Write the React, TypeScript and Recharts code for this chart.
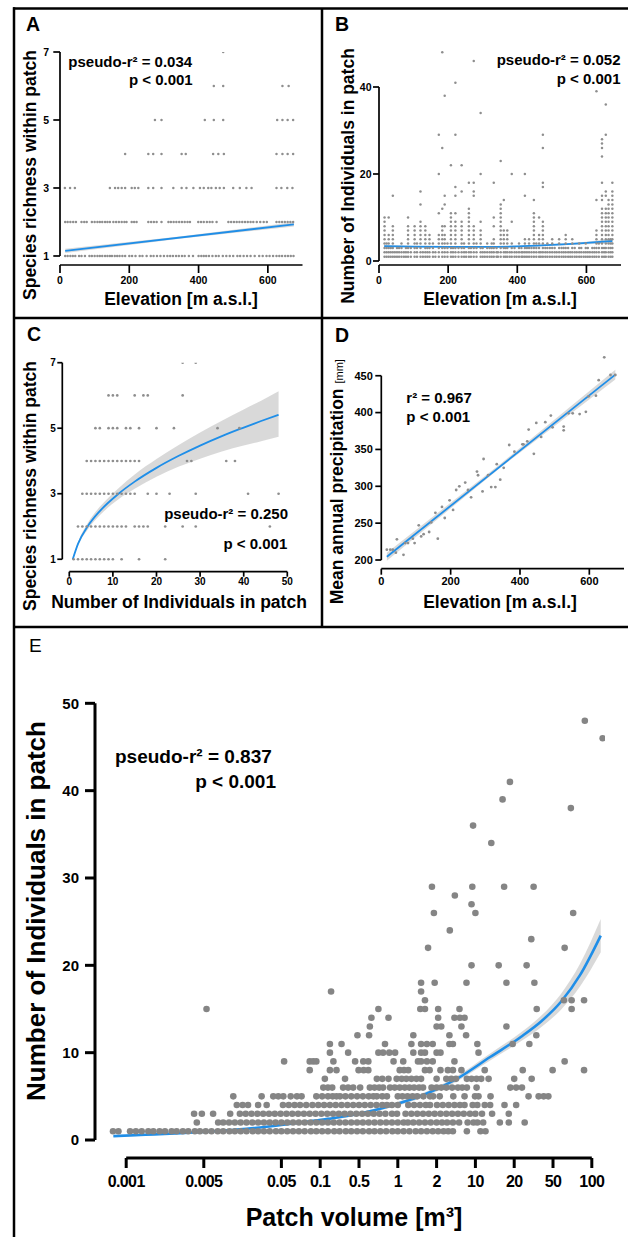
import React from 'react';
import { ComposedChart, Scatter, Line, Area, XAxis, YAxis, ReferenceLine } from 'recharts';

const FONT = '"Liberation Sans", Arial, Helvetica, sans-serif';
const DOT = '#8e8e8e';
const DOT_E = '#858585';
const BLUE = '#1f8ee8';
const BAND = '#cccccc';

// ---- Panel A: species richness vs elevation (one array per richness level)
const aRich1 = [15, 22, 30, 37, 44, 55, 62, 72, 85, 92, 100, 108, 115, 122, 130, 137, 144, 150, 158, 165, 172, 180, 188, 200, 208, 218, 230, 238, 250, 262, 270, 280, 290, 300, 310, 318, 326, 335, 343, 352, 360, 372, 384, 400, 408, 415, 422, 430, 440, 450, 458, 470, 480, 490, 500, 512, 520, 530, 540, 550, 562, 575, 585, 596, 605, 615, 625, 633, 641, 650, 658, 666, 674];
const aRich2 = [15, 22, 30, 38, 46, 62, 70, 77, 92, 100, 108, 115, 122, 130, 137, 144, 154, 162, 170, 178, 186, 192, 207, 214, 221, 255, 263, 271, 279, 293, 313, 320, 328, 336, 344, 352, 360, 368, 375, 399, 407, 415, 424, 432, 440, 452, 486, 494, 502, 510, 518, 526, 534, 542, 550, 558, 568, 578, 588, 597, 625, 633, 641, 649, 657, 665, 673];
const aRich3 = [14, 29, 43, 144, 159, 168, 178, 188, 207, 216, 226, 255, 269, 293, 327, 351, 365, 385, 404, 415, 428, 437, 450, 461, 473, 500, 519, 538, 553, 625, 639, 656, 671];
const aRich4 = [188, 255, 269, 293, 351, 363, 442, 457, 473, 625, 642, 657, 673];
const aRich5 = [274, 293, 418, 444, 471, 627, 642, 657, 673];
const aRich6 = [444, 471, 642, 660];
const aRich7 = [471];
const aLevels = [1, 2, 3, 4, 5, 6, 7];
const aFitX = [15, 675];
const aFitY = [1.15, 1.93];
const aBandX = [15, 345, 675];
const aBandLo = [1.09, 1.51, 1.87];
const aBandHi = [1.21, 1.57, 1.99];

// ---- Panel B: individuals per patch vs elevation (site elevation + counts found there)
const bSiteElev = [16, 22, 28, 34, 40, 46, 52, 58, 65, 72, 78, 84, 92, 103, 110, 120, 127, 134, 140, 146, 156, 163, 173, 183, 190, 198, 208, 214, 221, 230, 239, 246, 252, 260, 266, 274, 282, 294, 300, 306, 313, 320, 326, 332, 340, 344, 352, 361, 366, 371, 378, 384, 392, 398, 405, 412, 416, 422, 428, 434, 441, 448, 455, 463, 468, 474, 481, 487, 494, 501, 508, 514, 521, 528, 534, 540, 547, 553, 559, 566, 572, 579, 585, 592, 598, 604, 610, 617, 623, 629, 636, 645, 651, 656, 664, 670, 675];
const bSiteCounts = [
  [1, 2, 3, 4, 5, 6, 7, 8, 9, 10], [1, 2, 3, 4], [1, 2, 3, 4, 5, 6, 10], [1, 2, 3], [1, 2, 3, 4, 5, 6, 7, 8, 15], [1, 2],
  [1, 2, 3], [1, 2, 3], [1, 2, 3, 4], [1, 2], [1, 2, 3], [1, 2, 3, 4, 5, 6, 7, 8, 10], [1, 2, 3],
  [1, 2, 3, 4, 5, 6, 7, 8], [1, 2, 3, 4], [1, 2, 3, 4, 5, 6, 7, 8, 9, 13, 16], [1, 2], [1, 2, 3, 4, 5, 6, 7, 8],
  [1, 2, 3], [1, 2, 3, 4, 5, 6], [1, 2, 3, 4], [1, 2], [1, 2, 3, 4, 5, 6, 11, 20, 29],
  [1, 2, 3, 4, 5, 6, 7, 8, 12, 26, 48], [1, 2, 3, 4, 5, 6, 8, 13, 15, 38], [1, 2, 3, 4],
  [1, 2, 3, 4, 5, 6, 7, 8, 9, 10, 11, 22], [1, 2, 3], [1, 2, 3, 4, 5, 6, 7, 8, 9, 11, 15, 17, 29, 41], [1, 2, 3],
  [1, 2, 3, 4, 5, 6, 7, 8, 9, 16, 22], [1, 2, 3, 4], [1, 2], [1, 2, 3, 4, 5, 6, 7, 8, 9, 10, 11, 12, 18], [1, 2, 3],
  [1, 2, 3, 4, 5, 6, 7, 8, 15, 16, 18, 46], [1, 2, 3, 4], [1, 2, 3, 4, 5, 6, 7, 9, 20, 34], [1, 2, 3], [1, 2],
  [1, 2, 3, 4], [1, 2, 3], [1, 2, 3, 4], [1, 2, 3, 4, 5, 8, 10, 18], [1, 2, 3], [1, 2],
  [1, 2, 3, 4, 5, 6, 7, 8, 9, 10, 11, 12, 13, 23], [1, 2, 3, 4, 5, 6, 7, 14], [1, 2, 3], [1, 2, 3, 4, 5, 6, 7], [1, 2],
  [1, 2, 3, 4, 9, 20], [1, 2, 3], [1, 2], [1, 2, 3, 4], [1, 2, 3], [1, 2], [1, 2, 3, 4, 5, 15, 20], [1, 2, 3],
  [1, 2, 3, 4, 5], [1, 2, 3], [1, 2, 3, 4, 5, 6, 7, 8, 9, 10, 11, 14], [1, 2, 3, 4], [1, 2, 3, 4, 5, 6, 10], [1, 2],
  [1, 2, 3, 4, 5, 6, 7, 8, 9, 17, 18, 26, 29], [1, 2, 3], [1, 2, 3, 4], [1, 2, 3], [1, 2, 3, 4, 5], [1, 2, 3], [1, 2],
  [1, 2, 3, 4, 5], [1, 2, 3], [1, 2, 3], [1, 2, 3, 4, 5, 6], [1, 2, 3], [1, 2], [1, 2, 3, 4, 5], [1, 2, 3], [1, 2],
  [1, 2, 3, 4], [1, 2, 3], [1, 2], [1, 2, 3, 4], [1, 2, 3], [1, 2], [1, 2, 3], [1, 2, 3], [1, 2, 3, 4, 5, 6, 7, 14, 39],
  [1, 2, 3, 4], [1, 2, 3, 4, 5, 6, 7, 8, 9, 10, 11, 12, 14, 15, 18, 24, 26, 27, 28], [1, 2, 3],
  [1, 2, 3, 4, 5, 6, 7, 8, 9, 10, 11, 12, 15, 16, 29, 36], [1, 2, 3, 4, 5, 6, 7, 8, 9, 10, 11, 12, 13, 14],
  [1, 2, 3, 4, 5], [1, 2, 3, 4, 5, 6, 7, 8, 9, 10, 11, 12, 13, 14, 15, 16, 18],
];
const bFitX = [15, 100, 200, 300, 400, 500, 600, 675];
const bFitY = [3.4, 3.3, 3.25, 3.25, 3.35, 3.7, 4.15, 4.6];
const bBandLo = [3.15, 3.15, 3.1, 3.1, 3.2, 3.5, 3.85, 4.1];
const bBandHi = [3.65, 3.45, 3.4, 3.4, 3.5, 3.9, 4.45, 5.1];

// ---- Panel C: richness vs number of individuals
const cRich1 = [1, 2, 3, 4, 5, 6, 7, 8, 9, 10, 12, 16, 22];
const cRich2 = [2, 3, 4, 5, 6, 7, 8, 9, 10, 11, 12, 13, 15, 16, 17, 18, 22, 26, 29, 46];
const cRich3 = [3, 4, 5, 6, 7, 8, 9, 10, 11, 12, 13, 14, 15, 18, 20, 23, 29, 41, 48];
const cRich4 = [4, 5, 6, 7, 8, 9, 10, 11, 12, 13, 14, 15, 16, 27, 28, 36, 38];
const cRich5 = [6, 7, 9, 10, 11, 13, 14, 16, 20, 24, 34, 39];
const cRich6 = [9, 10, 11, 15, 17, 18, 26];
const cRich7 = [26, 29];
const cFitX = [0.8, 2, 4.2, 7, 11.3, 15, 20, 25, 30, 35, 40, 44, 48];
const cFitY = [1.0, 1.47, 2.0, 2.47, 3.0, 3.37, 3.79, 4.15, 4.47, 4.76, 5.02, 5.22, 5.41];
const cBandLo = [0.98, 1.42, 1.9, 2.34, 2.83, 3.15, 3.52, 3.82, 4.07, 4.29, 4.47, 4.6, 4.74];
const cBandHi = [1.02, 1.52, 2.1, 2.6, 3.17, 3.59, 4.06, 4.48, 4.87, 5.23, 5.57, 5.84, 6.13];

// ---- Panel D: precipitation vs elevation
const dElev = [16, 26, 33, 42, 45, 64, 69, 77, 91, 96, 108, 115, 122, 138, 144, 156, 163, 175, 183, 197, 207, 216, 225, 242, 250, 259, 276, 279, 292, 295, 308, 317, 329, 333, 343, 353, 369, 384, 407, 410, 421, 425, 440, 447, 461, 473, 489, 494, 526, 526, 540, 552, 572, 590, 598, 619, 627, 643, 661, 675];
const dPrecip = [214, 214, 214, 210, 228, 207, 223, 223, 229, 223, 247, 232, 235, 238, 251, 264, 229, 272, 257, 281, 268, 295, 300, 305, 295, 285, 320, 315, 293, 337, 315, 299, 299, 330, 309, 325, 356, 347, 357, 357, 361, 377, 344, 386, 367, 387, 396, 380, 376, 381, 399, 399, 398, 401, 422, 423, 444, 475, 451, 451];
const dFitX = [16, 675];
const dFitY = [204.5, 451.5];
const dBandX = [16, 345, 675];
const dBandLo = [199, 326, 445];
const dBandHi = [210, 331, 458];

// ---- Panel E: individuals vs patch volume (x = position on the volume axis)
const eTickPos = [0, 2, 4, 5, 6, 7, 8, 9, 10, 11, 12];
const eTickLabels = ['0.001', '0.005', '0.05', '0.1', '0.5', '1', '2', '10', '20', '50', '100'];
const eRow1 = [-0.34, -0.2, 0.1, 0.25, 0.4, 0.57, 0.7, 0.86, 1.0, 1.17, 1.3, 1.46, 1.6, 1.77, 1.9, 2.05, 2.2, 2.36, 2.5, 2.66, 2.8, 2.95, 3.1, 3.26, 3.4, 3.55, 3.7, 3.86, 4.0, 4.15, 4.3, 4.45, 4.6, 4.76, 4.9, 5.05, 5.2, 5.36, 5.5, 5.66, 5.8, 5.95, 6.1, 6.26, 6.4, 6.55, 6.7, 6.86, 7.0, 7.15, 7.3, 7.46, 7.6, 7.75, 7.9, 8.04, 8.18, 8.3, 8.42, 8.78, 9.13, 9.26];
const eRow2 = [1.82, 2.37, 2.5, 2.65, 2.8, 2.95, 3.1, 3.25, 3.4, 3.55, 3.7, 3.85, 4.0, 4.15, 4.3, 4.45, 4.6, 4.75, 4.9, 5.05, 5.2, 5.35, 5.5, 5.65, 5.8, 5.95, 6.1, 6.25, 6.4, 6.55, 6.7, 6.85, 7.0, 7.15, 7.26, 7.4, 7.55, 7.7, 7.85, 8.0, 8.14, 8.27, 8.42, 8.58, 8.8, 8.95, 9.05, 9.2, 9.63, 9.86, 10.27];
const eRow3 = [1.75, 1.95, 2.24, 2.68, 2.93, 3.08, 3.23, 3.38, 3.53, 3.68, 3.83, 3.98, 4.13, 4.28, 4.43, 4.58, 4.73, 4.88, 5.03, 5.18, 5.33, 5.48, 5.63, 5.78, 5.93, 6.08, 6.23, 6.38, 6.53, 6.68, 6.85, 6.98, 7.2, 7.35, 7.5, 7.65, 7.8, 7.95, 8.1, 8.25, 8.4, 8.55, 8.7, 8.86, 9.0, 9.17, 9.43, 9.86];
const eRow4 = [2.85, 3.0, 3.14, 3.4, 3.62, 4.04, 4.19, 4.34, 4.48, 4.64, 4.8, 4.95, 5.1, 5.25, 5.4, 5.55, 5.7, 5.85, 6.0, 6.15, 6.3, 6.45, 6.6, 6.72, 6.85, 7.0, 7.27, 7.42, 7.57, 7.72, 7.83, 8.01, 8.16, 8.31, 8.46, 8.6, 8.72, 8.93, 9.05, 9.24, 9.38, 9.75, 10.05];
const eRow5 = [2.76, 3.49, 3.79, 3.92, 4.05, 4.24, 4.4, 4.52, 4.9, 5.05, 5.2, 5.32, 5.42, 5.51, 5.65, 5.8, 5.95, 6.1, 6.25, 6.37, 6.46, 6.6, 6.72, 7.0, 7.12, 7.25, 7.38, 7.5, 7.66, 7.83, 7.91, 8.08, 8.43, 8.72, 8.99, 9.08, 9.39, 10.37, 10.63, 10.76, 10.88];
const eRow6 = [5.08, 5.2, 5.31, 5.59, 5.72, 5.85, 6.03, 6.28, 6.4, 6.52, 6.62, 6.8, 6.92, 7.05, 7.18, 7.3, 7.42, 7.55, 7.65, 7.87, 8.0, 8.12, 8.25, 8.4, 8.55, 8.66, 8.78, 9.03, 9.9, 10.05, 10.2];
const eRow7 = [5.12, 5.64, 6.46, 6.6, 6.76, 6.97, 7.1, 7.22, 7.35, 7.48, 7.6, 8.0, 8.25, 8.38, 8.5, 8.78, 8.9, 9.03, 9.15, 9.34, 10.0, 10.45];
const eRow8 = [4.73, 5.25, 5.42, 5.99, 6.12, 6.24, 7.05, 7.16, 7.27, 7.7, 7.82, 8.1, 8.29, 8.42, 8.64, 9.24, 10.22, 10.99, 11.8];
const eRow9 = [4.07, 4.73, 4.82, 4.9, 5.34, 5.9, 6.11, 6.24, 6.89, 7.14, 7.52, 7.6, 7.75, 7.9, 8.46, 11.3];
const eLevels = [1, 2, 3, 4, 5, 6, 7, 8, 9];
const eSparsePos = [5.25, 5.72, 6.5, 6.62, 6.78, 6.93, 7.4, 7.6, 7.7, 8.0, 8.1, 9.08,
  5.25, 5.55, 6.67, 7.35, 7.6, 7.75, 7.9, 8.33, 8.42, 9.05, 9.96, 10.39,
  5.96, 6.26, 7.4, 8.33, 8.76, 10.57, 6.28, 8.0, 8.12, 8.64, 9.8,
  6.32, 6.76, 8.04, 8.46, 8.6, 8.72, 2.07, 6.5, 7.58, 7.7, 8.04, 8.59, 10.58, 11.48,
  7.7, 11.28, 11.48, 11.8, 5.28, 7.6, 7.6, 7.95, 8.77, 9.8, 10.52, 8.9, 9.6, 10.32,
  7.78, 11.3, 10.44, 8.34, 7.93, 9.0, 11.52, 8.9, 8.47, 7.88, 8.92, 9.74, 10.5,
  9.41, 8.94, 11.46, 9.7, 9.89, 12.28, 11.82];
const eSparseCount = [10, 10, 10, 10, 10, 10, 10, 10, 10, 10, 10, 10,
  11, 11, 11, 11, 11, 11, 11, 11, 11, 11, 11, 11,
  12, 12, 12, 12, 12, 12, 13, 13, 13, 13, 13,
  14, 14, 14, 14, 14, 14, 15, 15, 15, 15, 15, 15, 15, 15,
  16, 16, 16, 16, 17, 17, 18, 18, 18, 18, 18, 20, 20, 20,
  22, 22, 23, 24, 26, 26, 26, 27, 28, 29, 29, 29, 29,
  34, 36, 38, 39, 41, 46, 48];
const eFitX = [-0.33, 0.5, 1.4, 2.3, 3.1, 4.0, 4.5, 5.2, 5.94, 6.8, 7.66, 8.52, 9.38, 10.17, 10.7, 11.2, 11.7, 12.23];
const eFitY = [0.45, 0.6, 0.78, 1.0, 1.28, 1.72, 2.0, 2.42, 2.95, 3.9, 5.15, 7.0, 9.5, 11.8, 13.6, 15.8, 18.9, 23.4];
const eBandLo = [0.35, 0.5, 0.68, 0.9, 1.18, 1.6, 1.87, 2.27, 2.78, 3.7, 4.9, 6.7, 9.1, 11.3, 12.95, 14.9, 17.6, 21.5];
const eBandHi = [0.55, 0.7, 0.88, 1.1, 1.38, 1.84, 2.13, 2.57, 3.12, 4.1, 5.4, 7.3, 9.9, 12.3, 14.25, 16.7, 20.2, 25.3];

type Pt = { x: number; y: number };
const rowsToPoints = (rows: number[][], levels: number[]): Pt[] =>
  rows.flatMap((r, i) => r.map((x) => ({ x, y: levels[i] })));
const zipPoints = (xs: number[], ys: number[]): Pt[] => xs.map((x, i) => ({ x, y: ys[i] }));
const zipBand = (xs: number[], lo: number[], hi: number[]) => xs.map((x, i) => ({ x, band: [lo[i], hi[i]] }));

const aPoints = rowsToPoints([aRich1, aRich2, aRich3, aRich4, aRich5, aRich6, aRich7], aLevels);
const bPoints = bSiteElev.flatMap((x, i) => bSiteCounts[i].map((y) => ({ x, y })));
const cPoints = rowsToPoints([cRich1, cRich2, cRich3, cRich4, cRich5, cRich6, cRich7], aLevels);
const dPoints = zipPoints(dElev, dPrecip);
const ePoints = [
  ...rowsToPoints([eRow1, eRow2, eRow3, eRow4, eRow5, eRow6, eRow7, eRow8, eRow9], eLevels),
  ...zipPoints(eSparsePos, eSparseCount),
];

type PanelProps = {
  left: number; top: number; width: number; height: number;
  margin: { top: number; right: number; bottom: number; left: number };
  xDomain: [number, number]; yDomain: [number, number];
  xTicks: number[]; yTicks: number[];
  xFormat?: (v: number) => string;
  points: Pt[]; dotR: number; dotColor: string;
  band: { x: number; band: number[] }[];
  fit: Pt[]; fitWidth: number; curve: 'linear' | 'monotone';
  axisW: number;
  xTickFont: number; yTickFont: number;
  xTickSize: number; xTickMargin: number; yTickSize: number; yTickMargin: number;
  yAxisWidth: number; xAxisHeight: number;
  yLine: [number, number];
  xLine?: [number, number];
  xTickSpacing?: number;
};

function Panel(p: PanelProps) {
  const dot = (props: any) => <circle cx={props.cx} cy={props.cy} r={p.dotR} fill={p.dotColor} />;
  const axisStroke = { stroke: '#000', strokeWidth: p.axisW };
  return (
    <div style={{ position: 'absolute', left: p.left, top: p.top }}>
      <ComposedChart width={p.width} height={p.height} margin={p.margin}>
        <XAxis
          type="number" dataKey="x" domain={p.xDomain} ticks={p.xTicks} allowDataOverflow
          interval={0} tickFormatter={p.xFormat} height={p.xAxisHeight}
          axisLine={p.xLine ? false : axisStroke} tickLine={axisStroke}
          tickSize={p.xTickSize} tickMargin={p.xTickMargin}
          tick={{ fontSize: p.xTickFont, fontWeight: 'bold', fill: '#000', fontFamily: FONT, letterSpacing: p.xTickSpacing ?? 0 }}
        />
        <YAxis
          type="number" dataKey="y" domain={p.yDomain} ticks={p.yTicks} allowDataOverflow
          interval={0} width={p.yAxisWidth} axisLine={false} tickLine={axisStroke}
          tickSize={p.yTickSize} tickMargin={p.yTickMargin}
          tick={{ fontSize: p.yTickFont, fontWeight: 'bold', fill: '#000', fontFamily: FONT }}
        />
        <Scatter data={p.points} shape={dot} isAnimationActive={false} />
        <Area data={p.band} dataKey="band" type={p.curve} stroke="none" fill={BAND} fillOpacity={0.75} isAnimationActive={false} />
        <Line data={p.fit} dataKey="y" type={p.curve} stroke={BLUE} strokeWidth={p.fitWidth} dot={false} activeDot={false} isAnimationActive={false} />
        <ReferenceLine
          segment={[{ x: p.xDomain[0], y: p.yLine[0] }, { x: p.xDomain[0], y: p.yLine[1] }]}
          stroke="#000" strokeWidth={p.axisW} ifOverflow="visible"
        />
        {p.xLine && (
          <ReferenceLine
            segment={[{ x: p.xLine[0], y: p.yDomain[0] }, { x: p.xLine[1], y: p.yDomain[0] }]}
            stroke="#000" strokeWidth={p.axisW} ifOverflow="visible"
          />
        )}
      </ComposedChart>
    </div>
  );
}

const small = {
  axisW: 1.7, xTickFont: 10.5, yTickFont: 10.5, yAxisWidth: 40, xAxisHeight: 30,
  dotR: 1.25, dotColor: DOT, fitWidth: 1.8,
};

const T = ({ x, y, size, anchor = 'start', weight = 'bold', rotate = false, children }: any) => (
  <text
    x={x} y={y} fontSize={size} fontWeight={weight} fontFamily={FONT} fill="#000" textAnchor={anchor}
    transform={rotate ? `rotate(-90 ${x} ${y})` : undefined}
  >
    {children}
  </text>
);

export default function App() {
  return (
    <div style={{ position: 'absolute', left: 0, top: 0, width: 628, height: 1237, background: '#fff', overflow: 'hidden' }}>
      <Panel
        {...small} left={0} top={0} width={322} height={318}
        margin={{ top: 52, right: 19.5, bottom: 23, left: 20 }}
        xDomain={[0, 700]} yDomain={[0.735, 7]} xTicks={[0, 200, 400, 600]} yTicks={[1, 3, 5, 7]}
        points={aPoints} band={zipBand(aBandX, aBandLo, aBandHi)} fit={zipPoints(aFitX, aFitY)} curve="linear"
        xTickSize={8} xTickMargin={3.5} yTickSize={6.7} yTickMargin={4.3} yLine={[1, 7]}
      />
      <Panel
        {...small} left={322} top={0} width={306} height={318}
        margin={{ top: 47.85, right: 7, bottom: 23, left: 17 }}
        xDomain={[0, 700]} yDomain={[-0.92, 49]} xTicks={[0, 200, 400, 600]} yTicks={[0, 20, 40]}
        points={bPoints} band={zipBand(bFitX, bBandLo, bBandHi)} fit={zipPoints(bFitX, bFitY)} curve="monotone"
        xTickSize={8} xTickMargin={3.5} yTickSize={6} yTickMargin={1.5} yLine={[0, 40]}
      />
      <Panel
        {...small} left={0} top={318} width={322} height={309}
        margin={{ top: 44.7, right: 34.7, bottom: 25.3, left: 22.3 }}
        xDomain={[-1.6, 50]} yDomain={[0.62, 7]} xTicks={[0, 10, 20, 30, 40, 50]} yTicks={[1, 3, 5, 7]}
        xTickFont={10} yTickFont={10} dotR={1.35}
        points={cPoints} band={zipBand(cFitX, cBandLo, cBandHi)} fit={zipPoints(cFitX, cFitY)} curve="monotone"
        xTickSize={5} xTickMargin={1.5} yTickSize={5} yTickMargin={1.5} yLine={[1, 7]} xLine={[0, 50]}
      />
      <Panel
        {...small} left={322} top={318} width={306} height={309}
        margin={{ top: 34, right: 4, bottom: 28.3, left: 19.3 }}
        xDomain={[0, 700]} yDomain={[188.2, 482.2]} xTicks={[0, 200, 400, 600]} yTicks={[200, 250, 300, 350, 400, 450]}
        xTickFont={11} yTickFont={11} dotR={1.4}
        points={dPoints} band={zipBand(dBandX, dBandLo, dBandHi)} fit={zipPoints(dFitX, dFitY)} curve="linear"
        xTickSize={6} xTickMargin={2.5} yTickSize={6} yTickMargin={2.5} yLine={[200, 450]}
      />
      <Panel
        left={0} top={627} width={628} height={610}
        margin={{ top: 73, right: 23, bottom: 39, left: 45 }}
        xDomain={[-0.804, 12.34]} yDomain={[-2.06, 50.38]} xTicks={eTickPos} yTicks={[0, 10, 20, 30, 40, 50]}
        xFormat={(v: number) => eTickLabels[eTickPos.indexOf(v)]}
        axisW={3} xTickFont={16} yTickFont={15} yAxisWidth={50} xAxisHeight={40} xTickSpacing={-0.6}
        dotR={3.3} dotColor={DOT_E} fitWidth={2.6}
        points={ePoints} band={zipBand(eFitX, eBandLo, eBandHi)} fit={zipPoints(eFitX, eFitY)} curve="monotone"
        xTickSize={10} xTickMargin={8} yTickSize={10} yTickMargin={6} yLine={[0, 50]} xLine={[0, 12]}
      />

      <svg width={628} height={1237} style={{ position: 'absolute', left: 0, top: 0, pointerEvents: 'none' }}>
        <g stroke="#000" strokeWidth={2.5}>
          <line x1={13} y1={8.5} x2={628} y2={8.5} />
          <line x1={14} y1={7.3} x2={14} y2={1237} />
          <line x1={322} y1={8.5} x2={322} y2={627} />
          <line x1={14} y1={318} x2={628} y2={318} />
          <line x1={14} y1={627} x2={628} y2={627} />
        </g>

        <T x={26} y={31} size={19.5}>A</T>
        <T x={35.6} y={175} size={17.5} anchor="middle" rotate>Species richness within patch</T>
        <T x={181} y={305} size={17.5} anchor="middle">Elevation [m a.s.l.]</T>
        <T x={68.3} y={66.7} size={15}>pseudo-r² = 0.034</T>
        <T x={192.7} y={85} size={15} anchor="end">p &lt; 0.001</T>

        <T x={335} y={31} size={19.5}>B</T>
        <T x={353.6} y={176} size={17.5} anchor="middle" rotate>Number of Individuals in patch</T>
        <T x={500} y={305} size={17.5} anchor="middle">Elevation [m a.s.l.]</T>
        <T x={620.5} y={65} size={15} anchor="end">pseudo-r² = 0.052</T>
        <T x={620.5} y={84} size={15} anchor="end">p &lt; 0.001</T>

        <T x={27} y={341} size={19.5}>C</T>
        <T x={35.6} y={486} size={17.5} anchor="middle" rotate>Species richness within patch</T>
        <T x={179} y={608.3} size={17.5} anchor="middle">Number of Individuals in patch</T>
        <T x={288} y={519.3} size={15} anchor="end">pseudo-r² = 0.250</T>
        <T x={287.3} y={549.3} size={15} anchor="end">p &lt; 0.001</T>

        <T x={335} y={341.7} size={19.5}>D</T>
        <text
          x={342.6} y={481.7} fontSize={17.5} fontWeight="bold" fontFamily={FONT} fill="#000" textAnchor="middle"
          transform="rotate(-90 342.6 481.7)"
        >
          Mean annual precipitation <tspan fontSize={11} fontWeight="normal">[mm]</tspan>
        </text>
        <T x={500} y={607.7} size={17.5} anchor="middle">Elevation [m a.s.l.]</T>
        <T x={406.3} y={403.3} size={15}>r² = 0.967</T>
        <T x={406.3} y={421.7} size={15}>p &lt; 0.001</T>

        <T x={29} y={652} size={19} weight="normal">E</T>
        <T x={44.5} y={911} size={26} anchor="middle" rotate>Number of Individuals in patch</T>
        <T x={354} y={1226} size={25} anchor="middle">Patch volume [m³]</T>
        <T x={115} y={762.7} size={19}>pseudo-r² = 0.837</T>
        <T x={276} y={788} size={19} anchor="end">p &lt; 0.001</T>
      </svg>
    </div>
  );
}
